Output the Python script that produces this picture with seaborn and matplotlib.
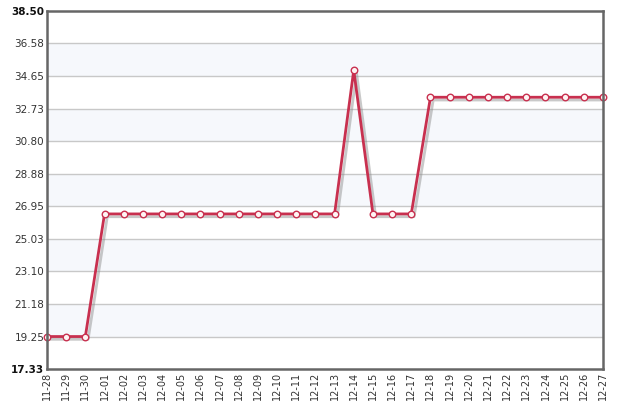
import numpy as np
import pandas as pd
import matplotlib
matplotlib.use("Agg")
import matplotlib.pyplot as plt
import matplotlib.patheffects as pe
import seaborn as sns

dates = ["11-28", "11-29", "11-30", "12-01", "12-02", "12-03", "12-04", "12-05",
         "12-06", "12-07", "12-08", "12-09", "12-10", "12-11", "12-12", "12-13",
         "12-14", "12-15", "12-16", "12-17", "12-18", "12-19", "12-20", "12-21",
         "12-22", "12-23", "12-24", "12-25", "12-26", "12-27"]
prices = [19.25, 19.25, 19.25, 26.5, 26.5, 26.5, 26.5, 26.5,
          26.5, 26.5, 26.5, 26.5, 26.5, 26.5, 26.5, 26.5,
          35.0, 26.5, 26.5, 26.5, 33.4, 33.4, 33.4, 33.4,
          33.4, 33.4, 33.4, 33.4, 33.4, 33.4]
yticks = [17.33, 19.25, 21.18, 23.10, 25.03, 26.95, 28.88, 30.80, 32.73, 34.65, 36.58, 38.50]

df = pd.DataFrame({"pos": range(len(dates)), "price": prices})

sns.set_style("white")
plt.rcParams["font.family"] = ["DejaVu Sans"]

fig = plt.figure(figsize=(6.25, 4.17), dpi=100)
ax = fig.add_axes([47 / 625, 48 / 417, 556 / 625, 358 / 417])

# alternating background bands
for i in range(len(yticks) - 1):
    if (len(yticks) - 2 - i) % 2 == 1:
        ax.axhspan(yticks[i], yticks[i + 1], color="#f6f8fc", zorder=0, lw=0)
for t in yticks[1:-1]:
    ax.axhline(t, color="#c8c8c8", lw=1, zorder=1)

line_color = "#c8304f"
sns.lineplot(data=df, x="pos", y="price", ax=ax, color=line_color, lw=2, zorder=3)
ax.lines[-1].set_path_effects([pe.SimpleLineShadow(offset=(2, -2), shadow_color="#888888", alpha=0.45),
                               pe.Normal()])
sns.scatterplot(data=df, x="pos", y="price", ax=ax, s=22, color="#fff4f4",
                edgecolor=line_color, linewidth=1, zorder=4, clip_on=False)

ax.set_xlim(0, len(dates) - 1)
ax.set_ylim(yticks[0], yticks[-1])
ax.set_xticks(range(len(dates)))
ax.set_xticklabels(dates, rotation=90, fontsize=7, color="#333333")
ax.set_yticks(yticks)
ax.set_yticklabels([f"{t:.2f}" for t in yticks], fontsize=7.5, color="#333333")
for lbl in (ax.get_yticklabels()[0], ax.get_yticklabels()[-1]):
    lbl.set_fontweight("bold")
    lbl.set_color("#111111")
ax.tick_params(length=0, pad=2)
ax.set_xlabel("")
ax.set_ylabel("")
for s in ax.spines.values():
    s.set_color("#666666")
    s.set_linewidth(1.8)
    s.set_zorder(5)

fig.savefig("out.png", dpi=100)
